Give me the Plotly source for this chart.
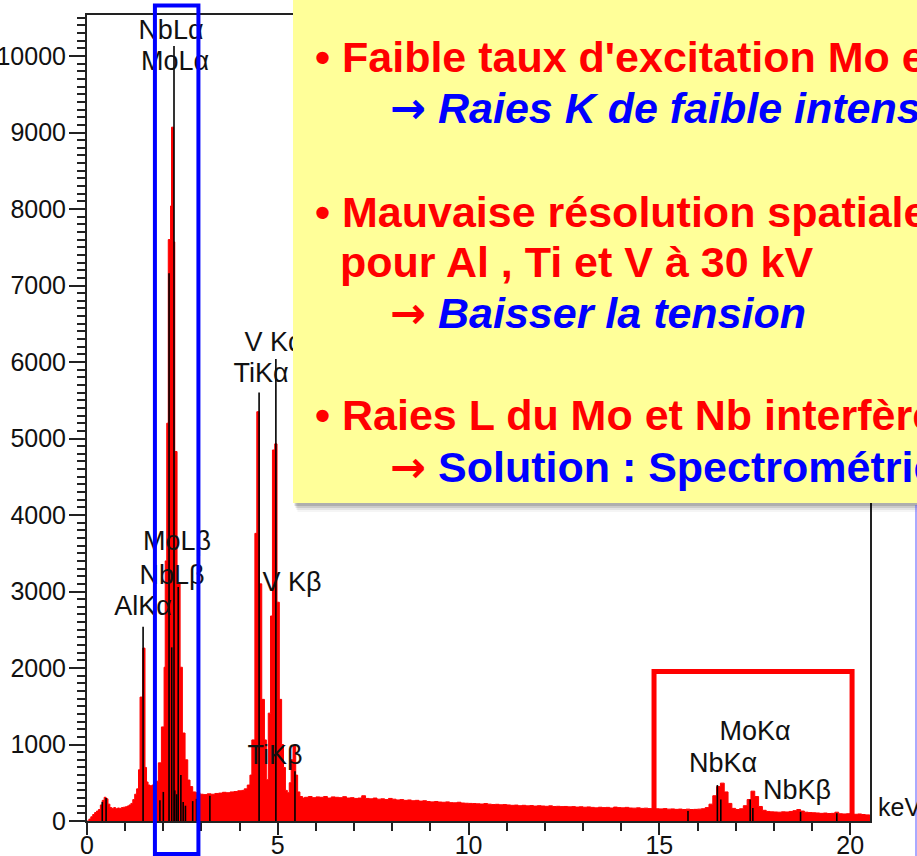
import numpy as np
import plotly.graph_objects as go

# ---------------- data ----------------
# low-energy part of the spectrum: step edges (keV) and counts
E_low = [0.00, 0.05, 0.10, 0.15, 0.20, 0.25, 0.30, 0.35, 0.40, 0.45, 0.50, 0.55,
         0.60, 0.65, 0.70, 0.75, 0.80, 0.85, 0.90, 0.95, 1.00, 1.05, 1.10, 1.15,
         1.20, 1.25, 1.30, 1.35, 1.39, 1.46, 1.52, 1.56, 1.60, 1.65, 1.70, 1.74,
         1.80, 1.87, 1.95, 2.02, 2.05, 2.09, 2.13, 2.19, 2.215, 2.265, 2.30, 2.36,
         2.44, 2.50, 2.57, 2.64, 2.70, 2.77, 2.85, 2.96, 3.05, 3.15, 3.25, 3.35,
         3.45, 3.55, 3.65, 3.75, 3.85, 3.95, 4.05, 4.12, 4.20, 4.27, 4.32, 4.40,
         4.45, 4.52, 4.58, 4.65, 4.70, 4.75, 4.81, 4.86, 4.92, 4.98, 5.04, 5.10,
         5.15, 5.20, 5.25, 5.30, 5.35, 5.40, 5.47, 5.52, 5.58, 5.65]
C_low = [0, 25, 55, 85, 110, 130, 150, 210, 270, 310, 290, 220,
         175, 165, 175, 160, 170, 165, 175, 180, 185, 195, 210, 230,
         280, 350, 420, 670, 1620, 2260, 700, 510, 470, 460, 470, 445,
         520, 760, 1230, 2010, 3400, 5200, 7600, 8040, 9070, 7570, 4830, 3100,
         2010, 1150, 800, 535, 450, 380, 370, 350, 345, 355, 350, 360,
         365, 375, 370, 380, 385, 395, 400, 420, 470, 600, 1060, 3760,
         5350, 3100, 1590, 1060, 540, 1410, 2680, 4850, 4930, 2860, 1590, 1000,
         700, 400, 370, 500, 800, 990, 600, 380, 320, 300]

# high-energy part: 0.1 keV channels starting at 5.7 keV
HI_START, HI_STEP = 5.7, 0.1
C_high = [310, 320, 305, 315, 310, 320, 300, 315, 310, 305, 318, 300, 305, 295,
          300, 330, 295, 290, 300, 285, 290, 280, 295, 285, 275, 280, 270, 275,
          265, 270, 260, 265, 255, 250, 255, 248, 245, 250, 240, 238, 245, 235,
          232, 230, 228, 225, 222, 228, 220, 215, 218, 212, 215, 210, 205, 208,
          200, 205, 198, 202, 195, 200, 196, 192, 198, 190, 192, 188, 190, 185,
          188, 182, 186, 180, 184, 178, 172, 180, 175, 178, 170, 182, 175, 172,
          178, 170, 168, 172, 165, 168, 162, 165, 160, 158, 162, 155, 158, 152,
          156, 150, 155, 150, 152, 155, 160, 175, 220, 330, 450, 495, 380, 230,
          165, 150, 160, 200, 280, 390, 320, 190, 140, 125, 120, 118, 115, 120,
          118, 125, 135, 150, 130, 115, 110, 108, 105, 100, 104, 98, 100, 115,
          95, 92, 95, 90, 88, 92, 85, 80, 78, 78]

# KLM marker lines (keV, top in counts)
marker_E = [0.40, 0.50, 1.47, 1.91, 2.00, 2.15, 2.22, 2.28, 2.30, 2.35, 2.39,
            2.46, 2.52, 2.58, 2.77, 2.87, 3.22, 4.51, 4.95, 5.45, 15.75, 16.52,
            16.61, 17.38, 17.45, 18.70, 19.65]
marker_top = [250, 300, 2540, 270, 380, 7160, 2270, 10130, 400, 350, 3060,
              600, 250, 200, 260, 290, 330, 5600, 6040, 650, 130, 470,
              280, 280, 170, 120, 100]

# peak labels
label_text = ["NbLα", "MoLα", "V Kα", "TiKα", "MoLβ", "NbLβ", "AlKα",
              "V Kβ", "TiKβ", "MoKα", "NbKα", "NbKβ"]
label_E = [2.20, 2.31, 4.90, 4.56, 2.36, 2.23, 1.47, 5.37, 4.93, 17.51, 16.67, 18.61]
label_C = [10314, 9908, 6235, 5830, 3634, 3190, 2784, 3098, 837, 1150, 732, 379]

x_ticks = [0, 5, 10, 15, 20]

# ---------------- figure ----------------
W, H = 917, 856
L, R, T, B = 87, 870, 15, 821


def px(x):
    return (x - L) / (R - L)


def py(y):
    return (B - y) / (B - T)


E_high = list(np.round(HI_START + HI_STEP * np.arange(len(C_high)), 3))
E_all = E_low + E_high
C_all = C_low + C_high

FONT = "Arial, 'Liberation Sans', sans-serif"

fig = go.Figure()
fig.add_trace(go.Scatter(
    x=E_all, y=C_all, mode="lines",
    line=dict(color="#FF0000", width=1, shape="hv"),
    fill="tozeroy", fillcolor="#FF0000", hoverinfo="skip", showlegend=False))

mx, my = [], []
for e, t in zip(marker_E, marker_top):
    mx += [e, e, None]
    my += [0, t, None]
fig.add_trace(go.Scatter(x=mx, y=my, mode="lines",
                         line=dict(color="#000000", width=1.6),
                         hoverinfo="skip", showlegend=False))

fig.add_trace(go.Scatter(
    x=label_E, y=label_C, mode="text", text=label_text,
    textposition="middle center",
    textfont=dict(family=FONT, size=27, color="#111111"),
    hoverinfo="skip", showlegend=False))

axis_font = dict(family=FONT, size=25, color="#111111")
fig.update_layout(
    width=W, height=H,
    margin=dict(l=L, r=W - R, t=T, b=H - B, pad=0, autoexpand=False),
    paper_bgcolor="white", plot_bgcolor="white",
    showlegend=False,
    xaxis=dict(range=[0, 20.52], tickvals=x_ticks, showgrid=False, zeroline=False,
               automargin=False, ticklabelstandoff=-11,
               showline=True, linecolor="#222222", linewidth=2, mirror=True,
               ticks="outside", ticklen=12, tickwidth=2, tickcolor="#222222",
               tickfont=axis_font,
               minor=dict(dtick=1, tick0=0, ticklen=8, tickwidth=1.5,
                          tickcolor="#222222", ticks="outside", showgrid=False)),
    yaxis=dict(range=[0, 10536], dtick=1000, tick0=0, tickformat="d",
               automargin=False, ticklabelstandoff=-2,
               showgrid=False, zeroline=False,
               showline=True, linecolor="#222222", linewidth=2, mirror=True,
               ticks="outside", ticklen=16, tickwidth=2, tickcolor="#222222",
               tickfont=axis_font,
               minor=dict(dtick=100, tick0=0, ticklen=8, tickwidth=1.5,
                          tickcolor="#222222", ticks="outside", showgrid=False)),
)

shapes = []
# shadow of the yellow note
for off, a in [(9, 0.04), (7, 0.07), (5, 0.10), (3, 0.14)]:
    shapes.append(dict(type="rect", xref="paper", yref="paper", layer="above",
                       x0=px(293 + off * 0.5), x1=px(940), y0=py(503 + off), y1=py(-10),
                       line=dict(width=0), fillcolor=f"rgba(0,0,0,{a})"))
shapes.append(dict(type="rect", xref="paper", yref="paper", layer="above",
                   x0=px(293), x1=px(940), y0=py(503), y1=py(-10),
                   line=dict(width=0), fillcolor="#FFFF99"))
# blue frame around the L lines
shapes.append(dict(type="rect", xref="x", yref="paper", layer="above",
                   x0=1.78, x1=2.92, y0=py(854), y1=py(5.5),
                   line=dict(color="#0000FF", width=4), fillcolor="rgba(0,0,0,0)"))
# red frame around the K lines
shapes.append(dict(type="rect", xref="x", yref="y", layer="above",
                   x0=14.86, x1=20.05, y0=-190, y1=1955,
                   line=dict(color="#FF0000", width=5), fillcolor="rgba(0,0,0,0)"))
# thin blue edge at right
shapes.append(dict(type="line", xref="paper", yref="paper", layer="above",
                   x0=px(916), x1=px(916), y0=py(505), y1=py(860),
                   line=dict(color="#5555FF", width=1)))
fig.update_layout(shapes=shapes)

note_font = dict(family=FONT, size=43)
RED, BLUE = "#FF0000", "#0000FF"
ARW = "<span style='font-family:\"DejaVu Sans\"'>→</span>"
note_lines = [
    (313, 71.7, f"<b><span style='color:{RED}'>• Faible taux d'excitation Mo et Nb</span></b>"),
    (388, 123, f"<b><span style='color:{BLUE}'>{ARW} <i>Raies K de faible intensité</i></span></b>"),
    (313, 227, f"<b><span style='color:{RED}'>• Mauvaise résolution spatiale</span></b>"),
    (338, 277, f"<b><span style='color:{RED}'>pour Al , Ti et V à 30 kV</span></b>"),
    (388, 328, f"<b><span style='color:{RED}'>{ARW} </span><span style='color:{BLUE}'><i>Baisser la tension</i></span></b>"),
    (313, 430, f"<b><span style='color:{RED}'>• Raies L du Mo et Nb interfèrent</span></b>"),
    (388, 482, f"<b><span style='color:{RED}'>{ARW} </span><span style='color:{BLUE}'>Solution : Spectrométrie</span></b>"),
]
annotations = []
for x0, base, txt in note_lines:
    annotations.append(dict(xref="paper", yref="paper", x=px(x0), y=py(base - 15),
                            xanchor="left", yanchor="middle", showarrow=False,
                            text=txt, font=note_font, align="left"))
annotations.append(dict(xref="paper", yref="paper", x=px(876), y=py(807),
                        xanchor="left", yanchor="middle", showarrow=False,
                        text="keV", font=dict(family=FONT, size=25, color="#111111")))
fig.update_layout(annotations=annotations)

fig.write_html("out.html")
